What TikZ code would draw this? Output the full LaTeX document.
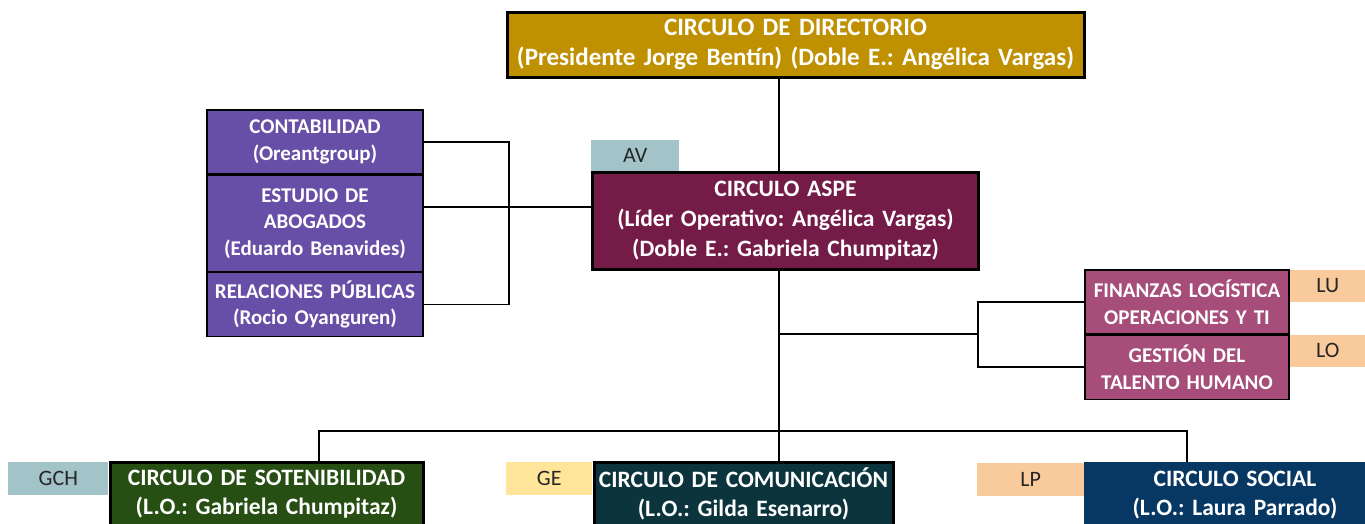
\documentclass[tikz,border=0pt]{standalone}
\usepackage{fontspec}
\setmainfont{Carlito}
\usetikzlibrary{positioning,chains}
\frenchspacing

\definecolor{dorado}{HTML}{BF9000}
\definecolor{vino}{HTML}{741B47}
\definecolor{lila}{HTML}{674EA7}
\definecolor{rosa}{HTML}{A64D79}
\definecolor{verde}{HTML}{274E13}
\definecolor{petroleo}{HTML}{0C343D}
\definecolor{azul}{HTML}{073763}
\definecolor{celeste}{HTML}{A2C4C9}
\definecolor{crema}{HTML}{FFE599}
\definecolor{durazno}{HTML}{F9CB9C}

\begin{document}
\begin{tikzpicture}[
	x=1pt, y=-1pt,
	start chain=izq going below,
	start chain=der going below,
	node distance=0pt,
	box/.style={
		rectangle,
		draw=black,
		line width=1.2pt,
		inner sep=0pt,
		text=white,
		align=center,
		font=\bfseries\fontsize{23.5}{29}\selectfont
		},
	circulo/.style={
		box,
		line width=3pt
	},
	lado/.style={
		box,
		fill=lila,
		text width=216pt,
		font=\bfseries\fontsize{21}{26.5}\selectfont
	},
	area/.style={
		box,
		fill=rosa,
		text width=204pt,
		minimum height=64pt,
		font=\bfseries\fontsize{21}{26.5}\selectfont
	},
	tag/.style={
		rectangle,
		inner sep=0pt,
		text=black!85,
		font=\fontsize{22}{24}\selectfont
	},
	linea/.style={
		line width=1.5pt
	}
]
\useasboundingbox (0,0) rectangle (1365,523);

% Directorio y ASPE
\node [circulo, fill=dorado, text width=577pt, minimum height=65pt,
	font=\bfseries\fontsize{25}{30}\selectfont] (dir) at (795.5,44.5)
	{CIRCULO DE DIRECTORIO\\(Presidente Jorge Bentín) (Doble E.: Angélica Vargas)};
\node [circulo, fill=vino, text width=386pt, minimum height=97pt,
	font=\bfseries\fontsize{23.5}{30}\selectfont] (aspe) at (785.5,221)
	{CIRCULO ASPE\\(Líder Operativo: Angélica Vargas)\\(Doble E.: Gabriela Chumpitaz)};
\node [tag, fill=celeste, minimum width=88pt, minimum height=31pt,
	above=0pt of aspe.north west, anchor=south west] (av) {AV};

% Asesores
\node [lado, on chain=izq, minimum height=64pt] (cont) at (315,142) {CONTABILIDAD\\(Oreantgroup)};
\node [lado, on chain=izq, minimum height=96pt] (est) {ESTUDIO DE\\ABOGADOS\\(Eduardo Benavides)};
\node [lado, on chain=izq, minimum height=64pt] (rel) {RELACIONES PÚBLICAS\\(Rocio Oyanguren)};

% Areas de soporte
\node [area, on chain=der] (fin) at (1187,302) {FINANZAS LOGÍSTICA\\OPERACIONES Y TI};
\node [area, on chain=der] (ges) {GESTIÓN DEL\\TALENTO HUMANO};
\node [tag, fill=durazno, minimum width=76pt, minimum height=32pt,
	right=0pt of fin.north east, anchor=north west] (lu) {LU};
\node [tag, fill=durazno, minimum width=76pt, minimum height=32pt,
	right=0pt of ges.north east, anchor=north west] (lo) {LO};

% Circulos operativos
\node [circulo, fill=verde, text width=313pt, minimum height=90pt] (sost) at (266.5,507)
	{CIRCULO DE SOTENIBILIDAD\\(L.O.: Gabriela Chumpitaz)\\\mbox{}};
\node [circulo, fill=petroleo, text width=299pt, minimum height=90pt] (com) at (743.5,507)
	{CIRCULO DE COMUNICACIÓN\\(L.O.: Gilda Esenarro)\\\mbox{}};
\node [box, draw=azul, fill=azul, text width=300pt, minimum height=90pt] (soc) at (1235,508)
	{CIRCULO SOCIAL\\(L.O.: Laura Parrado)\\\mbox{}};
\node [tag, fill=celeste, minimum width=100pt, minimum height=33pt,
	left=0pt of sost.north west, anchor=north east, yshift=-1.5pt] (gch) {GCH};
\node [tag, fill=crema, minimum width=86pt, minimum height=33pt,
	left=0pt of com.north west, anchor=north east, yshift=-1.5pt] (ge) {GE};
\node [tag, fill=durazno, minimum width=107pt, minimum height=33pt,
	left=0pt of soc.north west, anchor=north east] (lp) {LP};

% Conectores
\coordinate (eje) at (779,431);
\coordinate (bs) at (319,431);
\coordinate (bd) at (1187,431);
\coordinate (medio) at (509,207);
\coordinate (ramal) at (978,334);
\draw [linea] (dir.south -| eje) -- (aspe.north -| eje);
\draw [linea] (aspe.south -| eje) -- (eje) -- (eje |- com.north);
\draw [linea] (bs |- sost.north) -- (bs) -- (bd) -- (bd |- soc.north);
\draw [linea] (cont.east) -| (medio) |- (rel.east);
\draw [linea] (est.east |- medio) -- (aspe.west |- medio);
\draw [linea] (eje |- ramal) -- (ramal);
\draw [linea] (fin.west) -| (ramal) |- (ges.west);

\end{tikzpicture}
\end{document}
